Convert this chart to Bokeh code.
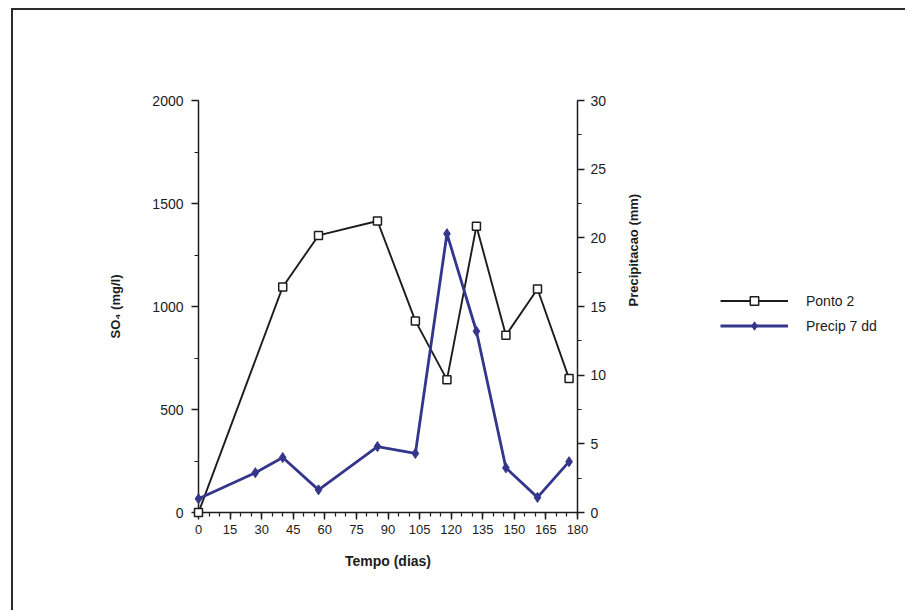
import math

from bokeh.plotting import figure
from bokeh.models import Range1d, LinearAxis, FixedTicker, Legend, LegendItem, Row
from bokeh.embed import file_html
from bokeh.resources import INLINE

# Sulphate at sampling point 2 (mg/l) against time (days)
dias_ponto = [0, 40, 57, 85, 103, 118, 132, 146, 161, 176]
so4_ponto = [0, 1095, 1345, 1415, 930, 645, 1390, 860, 1085, 650]

# 7-day accumulated precipitation (mm)
dias_precip = [0, 27, 40, 57, 85, 103, 118, 132, 146, 161, 176]
precip_7dd = [1.0, 2.9, 4.0, 1.65, 4.8, 4.3, 20.3, 13.2, 3.25, 1.1, 3.7]

x_ticks = [0, 15, 30, 45, 60, 75, 90, 105, 120, 135, 150, 165, 180]
x_minor = list(range(0, 181, 5))
left_ticks = [0, 500, 1000, 1500, 2000]
left_minor = list(range(0, 2001, 250))
right_ticks = [0, 5, 10, 15, 20, 25, 30]
right_minor = [i * 2.5 for i in range(13)]

series_names = ["Ponto 2", "Precip 7 dd"]

FONT = "Liberation Sans"
INK = "#1c1c1c"
BLUE = "#34368c"

# offset and border of the framed chart box
MARGIN_TOP, MARGIN_LEFT, EDGE = 8, 11, 2
X0, Y0 = MARGIN_LEFT + EDGE, MARGIN_TOP + EDGE      # inner corner of the box
H = 600
MAIN_W = 677
KEY_W = 215
FRAME_BOTTOM = 512

fig = figure(width=MAIN_W, height=H,
             output_backend="svg", toolbar_location=None,
             x_range=Range1d(0, 180), y_range=Range1d(0, 2000),
             min_border_left=198 - X0,
             min_border_right=MAIN_W - (577 - X0),
             min_border_top=100 - Y0,
             min_border_bottom=H - (FRAME_BOTTOM - Y0),
             x_axis_location=None, y_axis_location=None)
fig.outline_line_color = None
fig.grid.visible = False
fig.background_fill_color = "white"
fig.border_fill_color = "white"

fig.extra_y_ranges = {"precip": Range1d(0, 30)}


def style_axis(ax, label_size):
    ax.axis_line_color = INK
    ax.axis_line_width = 1.5
    ax.major_tick_line_color = INK
    ax.minor_tick_line_color = INK
    ax.major_tick_line_width = 1.5
    ax.minor_tick_line_width = 1.2
    ax.major_tick_in = 0
    ax.major_tick_out = 7
    ax.minor_tick_in = 0
    ax.minor_tick_out = 4
    ax.major_label_text_font = FONT
    ax.major_label_text_color = INK
    ax.axis_label_text_font = FONT
    ax.axis_label_text_font_style = "bold"
    ax.axis_label_text_color = INK
    ax.axis_label_text_font_size = label_size


x_axis = LinearAxis(axis_label="Tempo (dias)",
                    ticker=FixedTicker(ticks=x_ticks, minor_ticks=x_minor))
style_axis(x_axis, "14px")
x_axis.major_label_text_font_size = "13px"
x_axis.major_label_standoff = 5
x_axis.axis_label_standoff = 16
fig.add_layout(x_axis, "below")

left_axis = LinearAxis(axis_label="SO\u2084 (mg/l)",
                       ticker=FixedTicker(ticks=left_ticks, minor_ticks=left_minor))
style_axis(left_axis, "13px")
left_axis.major_label_text_font_size = "14px"
left_axis.major_label_standoff = 8
left_axis.axis_label_standoff = 26
fig.add_layout(left_axis, "left")

right_axis = LinearAxis(y_range_name="precip", axis_label="Precipitacao (mm)",
                        ticker=FixedTicker(ticks=right_ticks, minor_ticks=right_minor))
style_axis(right_axis, "13px")
right_axis.major_label_text_font_size = "14px"
right_axis.major_label_standoff = 6
right_axis.axis_label_standoff = 24
right_axis.axis_label_orientation = math.pi / 2
fig.add_layout(right_axis, "right")

PONTO_STYLE = dict(line_color=INK, line_width=1.9)
PONTO_MARK = dict(marker="square", size=8, line_color=INK, line_width=1.5,
                  fill_color="white")
PRECIP_STYLE = dict(line_color=BLUE, line_width=2.8)
PRECIP_MARK = dict(marker="diamond", size=10, line_color=BLUE, fill_color=BLUE)

# Series
fig.line(dias_ponto, so4_ponto, level="overlay", **PONTO_STYLE)
fig.scatter(dias_ponto, so4_ponto, level="overlay", **PONTO_MARK)
fig.line(dias_precip, precip_7dd, y_range_name="precip", level="overlay",
         **PRECIP_STYLE)
fig.scatter(dias_precip, precip_7dd, y_range_name="precip", level="overlay",
            **PRECIP_MARK)

# Key panel beside the chart: it holds the same series (its view range lies
# before day 0, so only the legend shows)
key = figure(width=KEY_W, height=H, output_backend="svg", toolbar_location=None,
             x_range=Range1d(-20, -10), y_range=Range1d(0, 1),
             min_border=0, x_axis_location=None, y_axis_location=None)
key.outline_line_color = None
key.grid.visible = False
key.background_fill_color = "white"
key.border_fill_color = "white"

k1 = [key.line(dias_ponto, so4_ponto, **PONTO_STYLE),
      key.scatter(dias_ponto, so4_ponto, **PONTO_MARK)]
k2 = [key.line(dias_precip, precip_7dd, **PRECIP_STYLE),
      key.scatter(dias_precip, precip_7dd, **PRECIP_MARK)]

KEY_LEFT = X0 + MAIN_W
legend = Legend(items=[LegendItem(label=series_names[0], renderers=k1),
                       LegendItem(label=series_names[1], renderers=k2)],
                location=(720 - KEY_LEFT, FRAME_BOTTOM - 336),
                glyph_width=68, glyph_height=21,
                label_standoff=18, spacing=4, padding=0, margin=0,
                border_line_color=None, background_fill_alpha=0,
                label_text_font=FONT, label_text_font_size="14px",
                label_text_color=INK)
key.add_layout(legend, "center")

p = Row(children=[fig, key], spacing=0)
p.margin = (MARGIN_TOP, 0, 0, MARGIN_LEFT)
p.styles = {"border-top": f"{EDGE}px solid #2a2a2a",
            "border-left": f"{EDGE}px solid #2a2a2a"}

open("out.html", "w").write(file_html(p, INLINE))
